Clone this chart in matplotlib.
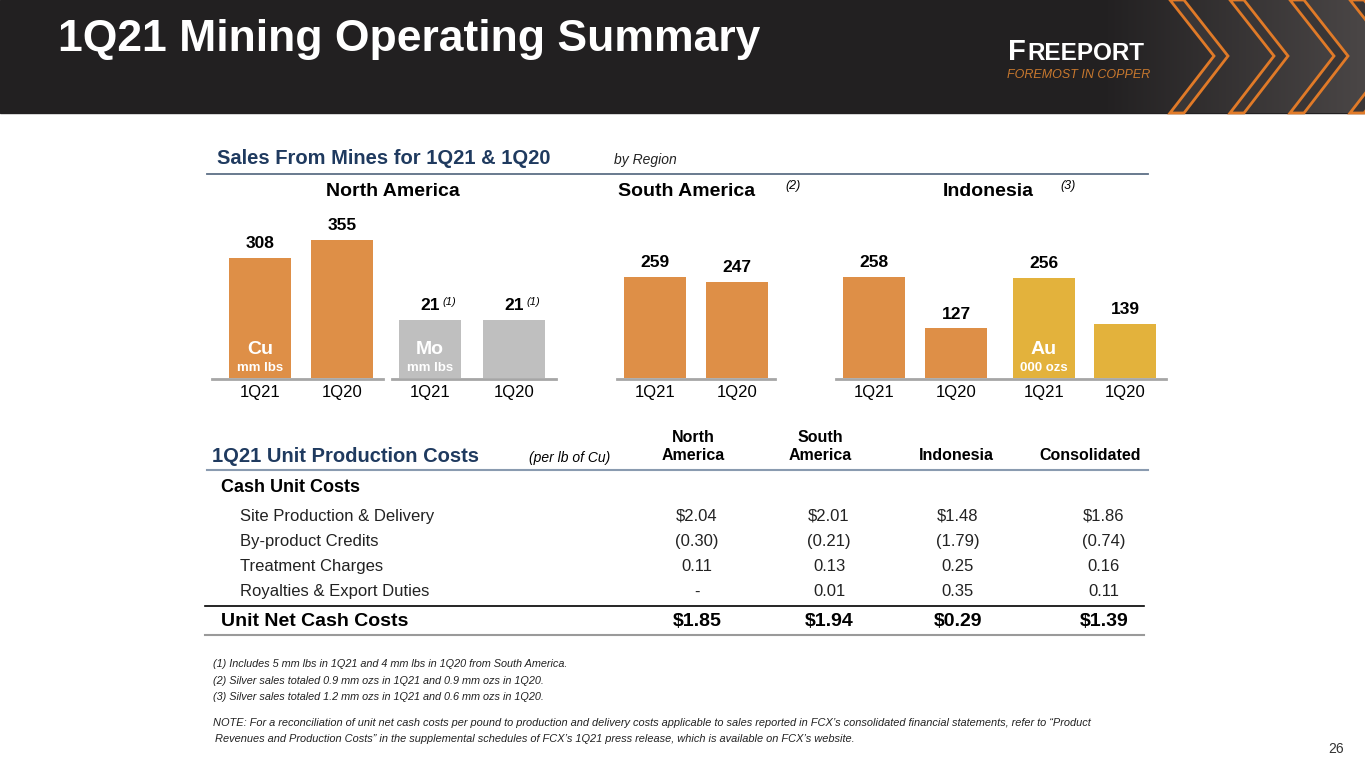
import matplotlib
matplotlib.use("Agg")
import matplotlib.pyplot as plt
from matplotlib import font_manager as fm
from matplotlib.patches import Rectangle, Polygon
import numpy as np

names = sorted({f.name for f in fm.fontManager.ttflist})
pick = [n for n in names if n in ('Liberation Sans', 'Arimo', 'Arial')]
if not pick:
    pick = [n for n in names if 'Liberation Sans' in n] or ['Roboto']
plt.rcParams['font.family'] = [pick[0], 'DejaVu Sans']

# ---- data ----
periods = ["1Q21", "1Q20"]
cu_na = [308, 355]
mo_na = [21, 21]
cu_sa = [259, 247]
cu_id = [258, 127]
au_id = [256, 139]
regions = ["North America", "South America", "Indonesia"]
cost_cols = ["North\nAmerica", "South\nAmerica", "Indonesia", "Consolidated"]
cost_rows = ["Site Production & Delivery", "By-product Credits", "Treatment Charges", "Royalties & Export Duties"]
cost_vals = [["$2.04", "$2.01", "$1.48", "$1.86"],
             ["(0.30)", "(0.21)", "(1.79)", "(0.74)"],
             ["0.11", "0.13", "0.25", "0.16"],
             ["-", "0.01", "0.35", "0.11"]]
net_vals = ["$1.85", "$1.94", "$0.29", "$1.39"]

W, H = 1365, 768
fig = plt.figure(figsize=(W/100, H/100), dpi=100)

base_y, top_y = 378, 218
box = [200/W, (H-base_y)/H, (1165-200)/W, (base_y-top_y)/H]
axm = fig.add_axes(box); axo = fig.add_axes(box)
axm.set_ylim(0, 160/0.39); axo.set_ylim(0, 21*160/58.0)
for a in (axm, axo):
    a.set_xlim(200, 1165); a.axis('off'); a.patch.set_alpha(0)

ov = fig.add_axes([0, 0, 1, 1], zorder=5)
ov.patch.set_alpha(0)
ov.set_xlim(0, W); ov.set_ylim(H, 0); ov.axis('off')

# header
ov.add_patch(Rectangle((0, 0), W, 113, color='#222021', zorder=0))
grad = np.linspace(0, 1, 200)[None, :]
ov.imshow(grad, extent=(1100, W, 113, 0), cmap=matplotlib.colors.LinearSegmentedColormap.from_list('g', ['#222021', '#4a4646']), aspect='auto', zorder=0.5)
for x0 in [1170, 1230, 1290, 1350]:
    ov.add_patch(Polygon([(x0, 0), (x0+14, 0), (x0+58, 56), (x0+14, 113), (x0, 113), (x0+44, 56)],
                         closed=True, facecolor='#3a3636', edgecolor='#e07a28', lw=2, zorder=1))
ov.set_xlim(0, W); ov.set_ylim(H, 0)
ov.text(58, 40, "1Q21 Mining Operating Summary", color='white', fontsize=32, fontweight='bold', va='center', ha='left')
ov.text(1008, 52, "F", color='white', fontsize=21, fontweight='bold', va='center', ha='left')
ov.text(1027, 53, "REEPORT", color='white', fontsize=17.5, fontweight='bold', va='center', ha='left')
ov.text(1007, 75, "FOREMOST IN COPPER", color='#c8782e', fontsize=9, style='italic', va='center', ha='left')

navy = '#1f3a5f'
ov.text(217, 159, "Sales From Mines for 1Q21 & 1Q20", color=navy, fontsize=14.5, fontweight='bold', va='center')
ov.text(614, 160, "by Region", color='#222', fontsize=10, style='italic', va='center')
ov.plot([207, 1148], [174, 174], color='#5d6f86', lw=1.3)
ov.text(393, 192, regions[0], fontsize=14, fontweight='bold', ha='center', va='center')
ov.text(618, 192, regions[1], fontsize=14, fontweight='bold', ha='left', va='center')
ov.text(785, 186, "(2)", fontsize=9, style='italic', ha='left', va='center')
ov.text(943, 192, regions[2], fontsize=14, fontweight='bold', ha='left', va='center')
ov.text(1060, 186, "(3)", fontsize=9, style='italic', ha='left', va='center')

orange, gray, gold = '#de8f47', '#bfbfbf', '#e3b23c'
bw = 62
groups = [(axm, [260, 342], cu_na, orange), (axo, [430, 514], mo_na, gray),
          (axm, [655, 737], cu_sa, orange), (axm, [874, 956], cu_id, orange),
          (axm, [1044, 1125], au_id, gold)]
for a, xs, vals, col in groups:
    a.bar(xs, vals, width=bw, color=col)
    for x, v in zip(xs, vals):
        a.annotate(str(v), (x, v), xytext=(0, 5), textcoords='offset points', ha='center',
                   va='bottom', fontsize=12.5, fontweight='bold')
for x in [430, 514]:
    ov.text(x + 12, 302, "(1)", fontsize=8, style='italic', va='center')
for x0, x1 in [(212, 383), (392, 556), (617, 775), (836, 1166)]:
    ov.plot([x0, x1], [378.5, 378.5], color='#a6a6a6', lw=2)
for x, t in zip([260, 342, 430, 514, 655, 737, 874, 956, 1044, 1125], periods*5):
    ov.text(x, 392, t, ha='center', va='center', fontsize=12)
for x, t, s in [(260, "Cu", "mm lbs"), (430, "Mo", "mm lbs"), (1044, "Au", "000 ozs")]:
    ov.text(x, 349, t, ha='center', va='center', fontsize=14, fontweight='bold', color='white')
    ov.text(x, 368, s, ha='center', va='center', fontsize=9.5, fontweight='bold', color='white')

# cost table
ov.text(212, 456, "1Q21 Unit Production Costs", color=navy, fontsize=14.5, fontweight='bold', va='center')
ov.text(529, 458, "(per lb of Cu)", fontsize=10, style='italic', va='center')
colx = [693, 820, 956, 1090]
for x, c in zip(colx, cost_cols):
    lines = c.split('\n')
    if len(lines) == 2:
        ov.text(x, 437, lines[0], ha='center', va='center', fontsize=11.5, fontweight='bold')
        ov.text(x, 456, lines[1], ha='center', va='center', fontsize=11.5, fontweight='bold')
    else:
        ov.text(x, 456, c, ha='center', va='center', fontsize=11.5, fontweight='bold')
ov.plot([207, 1148], [470, 470], color='#8a9bb0', lw=1.5)
ov.text(221, 488, "Cash Unit Costs", fontsize=13, fontweight='bold', va='center')
valx = [697, 829, 958, 1104]
for i, (r, vals) in enumerate(zip(cost_rows, cost_vals)):
    y = 516 + i*25.3
    ov.text(240, y, r, fontsize=12, va='center', color='#222')
    for x, v in zip(valx, vals):
        ov.text(x, y, v, fontsize=12, va='center', ha='center', color='#222')
ov.plot([205, 1144], [606, 606], color='black', lw=1.2)
ov.text(221, 622, "Unit Net Cash Costs", fontsize=14, fontweight='bold', va='center')
for x, v in zip(valx, net_vals):
    ov.text(x, 622, v, fontsize=14, fontweight='bold', va='center', ha='center')
ov.plot([205, 1144], [635, 635], color='#9a9a9a', lw=1.5)

notes = ["(1) Includes 5 mm lbs in 1Q21 and 4 mm lbs in 1Q20 from South America.",
         "(2) Silver sales totaled 0.9 mm ozs in 1Q21 and 0.9 mm ozs in 1Q20.",
         "(3) Silver sales totaled 1.2 mm ozs in 1Q21 and 0.6 mm ozs in 1Q20."]
for i, n in enumerate(notes):
    ov.text(213, 664 + i*16.5, n, fontsize=7.8, style='italic', va='center', color='#222')
ov.text(213, 723, "NOTE: For a reconciliation of unit net cash costs per pound to production and delivery costs applicable to sales reported in FCX\u2019s consolidated financial statements, refer to \u201cProduct",
        fontsize=7.9, style='italic', va='center', color='#222')
ov.text(215, 739, "Revenues and Production Costs\u201d in the supplemental schedules of FCX\u2019s 1Q21 press release, which is available on FCX\u2019s website.",
        fontsize=7.9, style='italic', va='center', color='#222')
ov.text(1344, 749, "26", fontsize=10, ha='right', va='center', color='#333')

fig.savefig("out.png", dpi=100)
